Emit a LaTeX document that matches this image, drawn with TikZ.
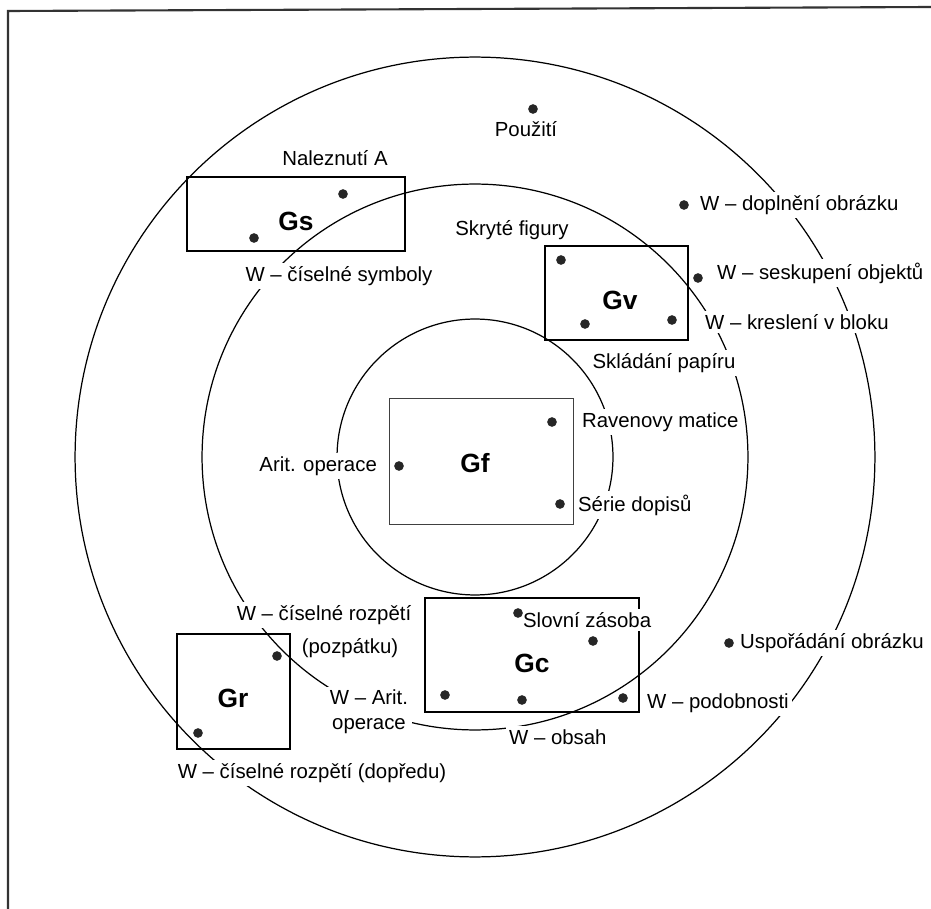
\documentclass[tikz,border=0pt]{standalone}
\usepackage{fontspec}
\setmainfont{Liberation Sans}

\begin{document}
\begin{tikzpicture}[x=0.02cm,y=-0.02cm,
    font=\fontsize{11.6}{14}\selectfont,
    line width=0.7pt,
    lbl/.style={fill=white,inner sep=2pt},
    gname/.style={font=\fontsize{15}{18}\selectfont\bfseries},
    dot/.style={circle,fill=black!85,inner sep=0pt,minimum size=5.5pt},
    gbox/.style={draw,line width=0.8pt}]
  \def \ra {8cm}
  \def \rb {5.46cm}
  \def \rc {2.76cm}
  \useasboundingbox (0,0) rectangle (931,909);
  \coordinate (mitte) at (475,457);

  %% frame, only top and left side are printed
  \draw[line width=1.2pt, black!80] (8,909) -- (8,11) -- (931,7);

  \draw (mitte) circle (\ra);
  \draw (mitte) circle (\rb);
  \draw (mitte) circle (\rc);

  %% the five factor boxes
  \draw[gbox] (187,177) rectangle (405,251);
  \draw[gbox] (545,246) rectangle (688,340);
  \draw[gbox, line width=0.5pt, black!75] (389,398) rectangle (573,524);
  \draw[gbox] (425,598) rectangle (639,712);
  \draw[gbox] (177,634) rectangle (290,749);

  \node[gname] (gs) at (296,221) {Gs};
  \node[gname] (gv) at (620,300) {Gv};
  \node[gname] (gf) at (475,463) {Gf};
  \node[gname] (gc) at (532,663) {Gc};
  \node[gname] (gr) at (233,698) {Gr};

  \node[lbl] (pouziti) at (526,129) {Použití};
  \node[lbl] (naleznuti) at (335,158) {Naleznutí A};
  \node[lbl] (symboly) at (339,276) {W – číselné symboly};
  \node[lbl] (skryte) at (512,230) {Skryté figury};
  \node[lbl, anchor=west] (doplneni) at (696,205) {W – doplnění obrázku};
  \node[lbl, anchor=west] (seskupeni) at (713,273) {W – seskupení objektů};
  \node[lbl, anchor=west] (kresleni) at (701,322) {W – kreslení v bloku};
  \node[lbl] (skladani) at (664,363) {Skládání papíru};
  \node[lbl, anchor=east] (aritop) at (381,466) {Arit. operace};
  \node[lbl, anchor=west] (raven) at (578,422) {Ravenovy matice};
  \node[lbl, anchor=west] (serie) at (574,505) {Série dopisů};
  \node[lbl, anchor=west] (slovni) at (519,620) {Slovní zásoba};
  \node[lbl, anchor=west] (podobnosti) at (643,703) {W – podobnosti};
  \node[lbl, anchor=west] (obsah) at (505,737) {W – obsah};
  \node[lbl, anchor=west] (usporadani) at (736,643) {Uspořádání obrázku};
  \node[lbl] (rozpeti) at (324,615) {W – číselné rozpětí};
  \node[lbl] (pozpatku) at (350,648) {(pozpátku)};
  \node[lbl, align=center] (waritop) at (369,712) {W – Arit.\\operace};
  \node[lbl] (dopredu) at (312,773) {W – číselné rozpětí (dopředu)};

  %% dots
  \node[dot] (pouzitid) at (533,109) {};
  \node[dot] (gs1) at (343,194) {};
  \node[dot] (gs2) at (254,238) {};
  \node[dot] (doplnenid) at (684,205) {};
  \node[dot] (seskupenid) at (698,278) {};
  \node[dot] (gv1) at (561,260) {};
  \node[dot] (gv2) at (585,324) {};
  \node[dot] (gv3) at (672,320) {};
  \node[dot] (gf1) at (399,466) {};
  \node[dot] (gf2) at (552,422) {};
  \node[dot] (gf3) at (560,504) {};
  \node[dot] (gc1) at (518,613) {};
  \node[dot] (gc2) at (593,641) {};
  \node[dot] (gc3) at (445,695) {};
  \node[dot] (gc4) at (522,700) {};
  \node[dot] (gc5) at (623,698) {};
  \node[dot] (usporadanid) at (729,643) {};
  \node[dot] (gr1) at (277,656) {};
  \node[dot] (gr2) at (198,733) {};

\end{tikzpicture}
\end{document}
